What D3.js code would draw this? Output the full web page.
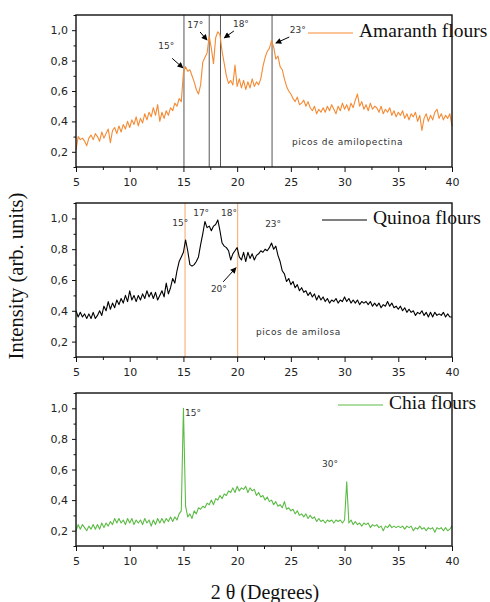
<!DOCTYPE html>
<html>
<head>
<meta charset="utf-8">
<script src="https://d3js.org/d3.v7.min.js"></script>
<style>
	body { margin: 0; background: #fff; }
	.c-svg { width: 490px; height: 602px; }
	.axis text { font-family: "DejaVu Sans", Verdana, sans-serif; font-size: 11px; fill: #222; }
	.axis path, .axis line { stroke: #111; }
	.note { font-family: "DejaVu Sans", Verdana, sans-serif; font-size: 9px; fill: #333; }
	.serif { font-family: "Liberation Serif", "Times New Roman", serif; fill: #111; }
</style>
</head>
<body>
<div class="c-svg"></div>
<script>
//DATA
//-------------------------------------------------------------------------

//2 theta sampling grid, 0.2 degree step
const twoTheta = d3.range(5, 40.001, 0.2);

const amaranth = [
	0.21, 0.30, 0.28, 0.29, 0.27,
	0.24, 0.29, 0.31, 0.28, 0.32,
	0.30, 0.27, 0.33, 0.29, 0.32,
	0.35, 0.26, 0.34, 0.36, 0.32,
	0.37, 0.33, 0.38, 0.35, 0.40,
	0.36, 0.41, 0.38, 0.43, 0.37,
	0.42, 0.39, 0.45, 0.41, 0.46,
	0.43, 0.49, 0.44, 0.51, 0.40,
	0.46, 0.42, 0.47, 0.44, 0.49,
	0.47, 0.52, 0.50, 0.55, 0.53,
	0.72, 0.76, 0.73, 0.74, 0.70,
	0.66, 0.61, 0.58, 0.64, 0.79,
	0.82, 0.85, 0.96, 0.88, 0.78,
	0.95, 0.99, 0.97, 0.86, 0.78,
	0.70, 0.65, 0.67, 0.64, 0.77,
	0.63, 0.68, 0.62, 0.67, 0.61,
	0.66, 0.62, 0.68, 0.63, 0.66,
	0.64, 0.68, 0.76, 0.82, 0.86,
	0.88, 0.93, 0.89, 0.81, 0.83,
	0.76, 0.74, 0.68, 0.63, 0.60,
	0.58, 0.55, 0.53, 0.56, 0.51,
	0.52, 0.54, 0.50, 0.53, 0.49,
	0.47, 0.50, 0.45, 0.48, 0.46,
	0.49, 0.46, 0.50, 0.47, 0.51,
	0.48, 0.45, 0.50, 0.47, 0.52,
	0.48, 0.51, 0.47, 0.52, 0.49,
	0.54, 0.58, 0.50, 0.53, 0.48,
	0.51, 0.47, 0.52, 0.48, 0.50,
	0.49, 0.46, 0.50, 0.45, 0.48,
	0.46, 0.49, 0.44, 0.47, 0.43,
	0.46, 0.44, 0.47, 0.42, 0.45,
	0.41, 0.45, 0.43, 0.46, 0.40,
	0.44, 0.34, 0.42, 0.45, 0.40,
	0.44, 0.41, 0.46, 0.48, 0.42,
	0.45, 0.41, 0.44, 0.42, 0.45,
	0.37
];

const quinoa = [
	0.40, 0.36, 0.39, 0.36, 0.38,
	0.35, 0.38, 0.35, 0.39, 0.35,
	0.37, 0.40, 0.37, 0.43, 0.40,
	0.46, 0.41, 0.45, 0.42, 0.47,
	0.44, 0.48, 0.45, 0.50, 0.46,
	0.53, 0.47, 0.50, 0.46, 0.50,
	0.47, 0.51, 0.48, 0.53, 0.49,
	0.52, 0.48, 0.52, 0.47, 0.50,
	0.53, 0.49, 0.58, 0.51, 0.55,
	0.61, 0.58, 0.66, 0.72, 0.75,
	0.78, 0.86, 0.79, 0.70, 0.69,
	0.70, 0.72, 0.75, 0.83, 0.90,
	0.98, 0.94, 0.95, 0.92, 0.95,
	0.96, 0.99, 0.92, 0.84, 0.82,
	0.81, 0.79, 0.73, 0.77, 0.79,
	0.81, 0.75, 0.73, 0.78, 0.72,
	0.78, 0.74, 0.77, 0.73, 0.76,
	0.77, 0.79, 0.78, 0.80, 0.79,
	0.81, 0.84, 0.80, 0.82, 0.76,
	0.72, 0.66, 0.64, 0.59, 0.61,
	0.57, 0.59, 0.55, 0.57, 0.53,
	0.55, 0.52, 0.53, 0.50, 0.52,
	0.49, 0.51, 0.47, 0.50, 0.47,
	0.49, 0.46, 0.48, 0.45, 0.47,
	0.46, 0.48, 0.45, 0.47, 0.46,
	0.49, 0.46, 0.48, 0.45, 0.47,
	0.45, 0.47, 0.44, 0.46, 0.45,
	0.46, 0.44, 0.46, 0.43, 0.45,
	0.43, 0.45, 0.42, 0.44, 0.43,
	0.46, 0.43, 0.45, 0.42, 0.43,
	0.41, 0.43, 0.40, 0.42, 0.39,
	0.41, 0.39, 0.40, 0.37, 0.39,
	0.38, 0.40, 0.37, 0.39, 0.36,
	0.39, 0.36, 0.39, 0.37, 0.38,
	0.37, 0.39, 0.36, 0.38, 0.36,
	0.36
];

const chia = [
	0.20, 0.24, 0.21, 0.24, 0.22,
	0.20, 0.23, 0.21, 0.24, 0.21,
	0.24, 0.21, 0.25, 0.22, 0.25,
	0.23, 0.26, 0.24, 0.28, 0.25,
	0.28, 0.25, 0.27, 0.24, 0.28,
	0.25, 0.28, 0.24, 0.27, 0.25,
	0.27, 0.24, 0.28, 0.25, 0.27,
	0.23, 0.27, 0.24, 0.28, 0.25,
	0.28, 0.25, 0.28, 0.26, 0.29,
	0.26, 0.29, 0.27, 0.31, 0.33,
	1.00, 0.36, 0.29, 0.31, 0.28,
	0.33, 0.31, 0.35, 0.34, 0.36,
	0.35, 0.38, 0.37, 0.40, 0.37,
	0.41, 0.40, 0.43, 0.41, 0.44,
	0.43, 0.46, 0.45, 0.48, 0.45,
	0.49, 0.46, 0.48, 0.47, 0.49,
	0.45, 0.48, 0.46, 0.47, 0.43,
	0.45, 0.42, 0.43, 0.40, 0.42,
	0.39, 0.40, 0.37, 0.39, 0.36,
	0.37, 0.35, 0.39, 0.34, 0.35,
	0.33, 0.34, 0.31, 0.33, 0.30,
	0.31, 0.29, 0.31, 0.28, 0.30,
	0.28, 0.29, 0.26, 0.28, 0.26,
	0.27, 0.25, 0.27, 0.26, 0.27,
	0.25, 0.27, 0.26, 0.27, 0.25,
	0.27, 0.52, 0.25, 0.27, 0.24,
	0.26, 0.24, 0.25, 0.23, 0.25,
	0.24, 0.25, 0.22, 0.24, 0.23,
	0.24, 0.22, 0.23, 0.20, 0.23,
	0.22, 0.24, 0.22, 0.23, 0.22,
	0.23, 0.22, 0.23, 0.21, 0.23,
	0.22, 0.23, 0.20, 0.22, 0.21,
	0.23, 0.21, 0.22, 0.20, 0.22,
	0.21, 0.22, 0.19, 0.22, 0.21,
	0.22, 0.20, 0.22, 0.20, 0.21,
	0.23
];

const xTicks = [5, 10, 15, 20, 25, 30, 35, 40];
const yTicks = [0.2, 0.4, 0.6, 0.8, 1.0];

const seriesNames = ["Amaranth flours", "Quinoa flours", "Chia flours"];
const seriesValues = [amaranth, quinoa, chia];
const seriesColors = ["#f58a33", "#000000", "#5cbb45"];

//reference lines (2 theta) per panel
const peakLines = [[15.05, 17.4, 18.45, 23.25], [15.15, 20.05], []];
const peakLineColors = ["#555555", "#f5a66a", "none"];

//peak labels: [label, 2theta, intensity]
const peakLabels = [
	[["15°", 13.4, 0.89], ["17°", 16.1, 1.03], ["18°", 20.35, 1.04], ["23°", 25.65, 1.0]],
	[["15°", 14.7, 0.965], ["17°", 16.65, 1.035], ["18°", 19.25, 1.035], ["20°", 18.3, 0.54], ["23°", 23.35, 0.96]],
	[["15°", 15.9, 0.965], ["30°", 28.65, 0.635]]
];

//arrows: [from 2theta, from intensity, to 2theta, to intensity]
const peakArrows = [
	[[13.95, 0.815, 14.95, 0.752], [16.55, 0.988, 17.2, 0.935], [19.7, 0.995, 18.8, 0.95], [24.85, 0.955, 23.6, 0.915]],
	[[18.7, 0.588, 19.9, 0.68]],
	[]
];

const regionNotes = [["picos de amilopectina", 25.1, 0.26], ["picos de amilosa", 21.75, 0.26], null];


//INITIALISATION
//-------------------------------------------------------------------------

const opts = {
	width: 490,
	height: 602,
	left: 76,
	right: 452,
	panels: [
		{ top: 15, bottom: 167, legY: 18, legX: 308 },
		{ top: 203, bottom: 357, legY: 17, legX: 322 },
		{ top: 393, bottom: 546, legY: 12, legX: 338 }
	]
};

const svg = d3.select(".c-svg")
	.append("svg")
	.attr("width", opts.width)
	.attr("height", opts.height);

svg.append("defs")
	.append("marker")
	.attr("id", "arrow")
	.attr("viewBox", "0 0 10 10")
	.attr("refX", 9)
	.attr("refY", 5)
	.attr("markerWidth", 7)
	.attr("markerHeight", 6)
	.attr("markerUnits", "userSpaceOnUse")
	.attr("orient", "auto")
	.append("path")
	.attr("d", "M0,0L10,5L0,10Z")
	.attr("fill", "#000");

const x = d3.scaleLinear()
	.domain([5, 40])
	.range([opts.left, opts.right]);


//PANELS
//-------------------------------------------------------------------------

opts.panels.forEach((p, i) => {

	const y = d3.scaleLinear()
		.domain([0.1, 1.1])
		.range([p.bottom, p.top]);

	const g = svg.append("g").attr("class", "panel");

	//minor ticks
	const xMinor = d3.axisBottom(x)
		.tickValues(d3.range(7.5, 40, 5))
		.tickSize(3)
		.tickFormat("");
	g.append("g")
		.attr("class", "axis")
		.attr("transform", `translate(0 ${p.bottom})`)
		.call(xMinor)
		.call(s => s.select(".domain").remove());

	const yMinor = d3.axisLeft(y)
		.tickValues([0.1, 0.3, 0.5, 0.7, 0.9, 1.1])
		.tickSize(2.5)
		.tickFormat("");
	g.append("g")
		.attr("class", "axis")
		.attr("transform", `translate(${opts.left} 0)`)
		.call(yMinor)
		.call(s => s.select(".domain").remove());

	//major ticks
	const xAxis = d3.axisBottom(x)
		.tickValues(xTicks)
		.tickSize(5)
		.tickSizeOuter(0)
		.tickPadding(6)
		.tickFormat(d3.format("d"));
	g.append("g")
		.attr("class", "axis x_axis")
		.attr("transform", `translate(0 ${p.bottom})`)
		.call(xAxis)
		.call(s => s.select(".domain").remove());

	const yAxis = d3.axisLeft(y)
		.tickValues(yTicks)
		.tickSize(4)
		.tickSizeOuter(0)
		.tickPadding(4)
		.tickFormat(d => d.toFixed(1).replace(".", ","));
	g.append("g")
		.attr("class", "axis y_axis")
		.attr("transform", `translate(${opts.left} 0)`)
		.call(yAxis)
		.call(s => s.select(".domain").remove());

	//reference lines
	g.append("g")
		.selectAll("line")
		.data(peakLines[i])
		.join("line")
		.attr("x1", d => x(d))
		.attr("x2", d => x(d))
		.attr("y1", p.top)
		.attr("y2", p.bottom)
		.attr("stroke", peakLineColors[i])
		.attr("stroke-width", 1);

	//series line
	const line = d3.line()
		.x((d, j) => x(twoTheta[j]))
		.y(d => y(d));

	g.append("path")
		.datum(seriesValues[i])
		.attr("d", line)
		.attr("fill", "none")
		.attr("stroke", seriesColors[i])
		.attr("stroke-width", 1.1)
		.attr("stroke-linejoin", "round");

	//frame
	g.append("rect")
		.attr("x", opts.left)
		.attr("y", p.top)
		.attr("width", opts.right - opts.left)
		.attr("height", p.bottom - p.top)
		.attr("fill", "none")
		.attr("stroke", "#111")
		.attr("stroke-width", 1.4);

	//peak labels
	g.append("g")
		.selectAll("text")
		.data(peakLabels[i])
		.join("text")
		.attr("class", "note")
		.attr("x", d => x(d[1]))
		.attr("y", d => y(d[2]))
		.attr("text-anchor", "middle")
		.attr("dominant-baseline", "middle")
		.text(d => d[0]);

	//arrows
	g.append("g")
		.selectAll("line")
		.data(peakArrows[i])
		.join("line")
		.attr("x1", d => x(d[0]))
		.attr("y1", d => y(d[1]))
		.attr("x2", d => x(d[2]))
		.attr("y2", d => y(d[3]))
		.attr("stroke", "#000")
		.attr("stroke-width", 1)
		.attr("marker-end", "url(#arrow)");

	//region note
	if (regionNotes[i]) {
		g.append("text")
			.attr("class", "note")
			.attr("x", x(regionNotes[i][1]))
			.attr("y", y(regionNotes[i][2]))
			.attr("dominant-baseline", "middle")
			.attr("letter-spacing", 0.6)
			.text(regionNotes[i][0]);
	}

	//legend
	g.append("line")
		.attr("x1", p.legX)
		.attr("x2", p.legX + 45)
		.attr("y1", p.top + p.legY)
		.attr("y2", p.top + p.legY)
		.attr("stroke", seriesColors[i])
		.attr("stroke-width", 1);

	g.append("text")
		.attr("class", "serif")
		.attr("x", p.legX + 51)
		.attr("y", p.top + p.legY)
		.attr("dominant-baseline", "middle")
		.attr("font-size", 19.5)
		.text(seriesNames[i]);
});


//AXIS TITLES
//-------------------------------------------------------------------------

svg.append("text")
	.attr("class", "serif")
	.attr("transform", "translate(18 276) rotate(-90)")
	.attr("text-anchor", "middle")
	.attr("dominant-baseline", "middle")
	.attr("font-size", 20.5)
	.text("Intensity (arb. units)");

svg.append("text")
	.attr("class", "serif")
	.attr("x", 265)
	.attr("y", 594)
	.attr("text-anchor", "middle")
	.attr("dominant-baseline", "middle")
	.attr("font-size", 20)
	.text("2 θ (Degrees)");
</script>
</body>
</html>
